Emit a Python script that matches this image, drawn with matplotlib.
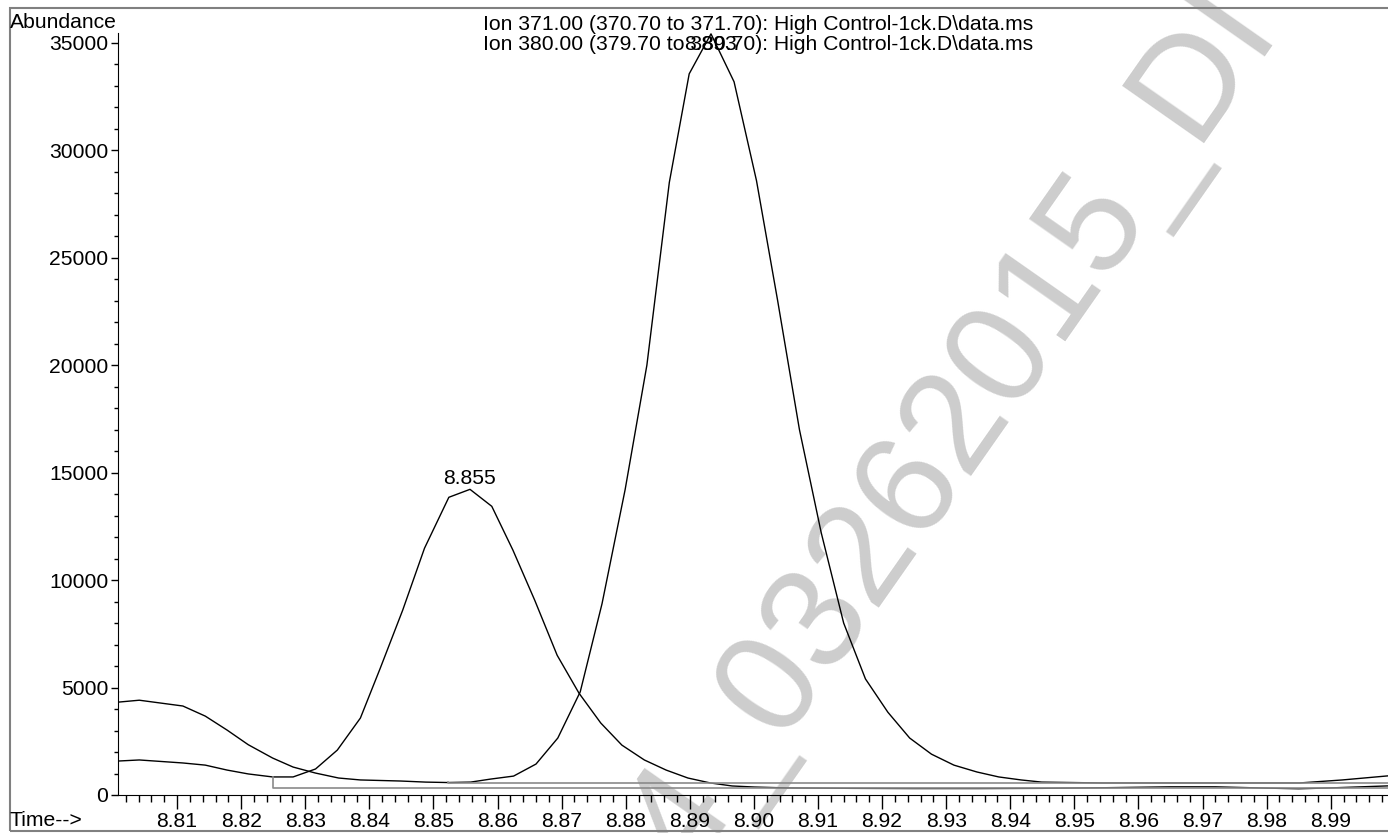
import matplotlib.pyplot as plt
import matplotlib.transforms as mtransforms
from matplotlib.patches import Rectangle
from matplotlib.ticker import MultipleLocator, FormatStrFormatter

plt.rcParams['font.family'] = ['Liberation Sans', 'DejaVu Sans']

# Ion 371.00 trace (peak at 8.855)
t_371 = [8.8008, 8.8041, 8.8109, 8.8144, 8.8178, 8.8211, 8.8249, 8.8281, 8.8316, 8.8350,
         8.8386, 8.8417, 8.8452, 8.8486, 8.8524, 8.8557, 8.8591, 8.8624, 8.8658, 8.8693,
         8.8727, 8.8761, 8.8794, 8.8829, 8.8863, 8.8897, 8.8932, 8.8966, 8.9001, 8.905,
         8.915, 8.925, 8.935, 8.945, 8.955, 8.965, 8.972, 8.980, 8.985, 8.990, 8.9995]
y_371 = [1580, 1630, 1490, 1390, 1160, 980, 840, 840, 1210, 2090,
         3580, 5900, 8600, 11480, 13850, 14220, 13430, 11390, 9060, 6500,
         4740, 3350, 2320, 1630, 1160, 790, 560, 420, 370, 330,
         310, 300, 300, 310, 340, 380, 380, 320, 290, 330, 430]

# Ion 380.00 trace (peak at 8.893)
t_380 = [8.8008, 8.8041, 8.8109, 8.8144, 8.8178, 8.8211, 8.8249, 8.8281, 8.8316, 8.8352,
         8.8386, 8.8449, 8.8488, 8.8522, 8.8558, 8.8589, 8.8625, 8.8660, 8.8694, 8.8729,
         8.8763, 8.8799, 8.8833, 8.8868, 8.8899, 8.8933, 8.8969, 8.9004, 8.9037, 8.9071,
         8.9105, 8.9140, 8.9174, 8.9209, 8.9243, 8.9277, 8.9312, 8.9348, 8.9382, 8.9417,
         8.9449, 8.9543, 8.9699, 8.9851, 8.9918, 8.9993]
y_380 = [4320, 4410, 4140, 3670, 3020, 2340, 1720, 1300, 1020, 790,
         700, 650, 600, 580, 600, 740, 880, 1440, 2650, 4800,
         8900, 14200, 20000, 28500, 33550, 35410, 33180, 28580, 23000, 17000,
         12200, 8000, 5400, 3850, 2650, 1900, 1390, 1070, 840, 700,
         600, 560, 560, 560, 700, 900]

ion_titles = ["Ion 371.00 (370.70 to 371.70): High Control-1ck.D\\data.ms",
              "Ion 380.00 (379.70 to 380.70): High Control-1ck.D\\data.ms"]
peak_labels = ["8.855", "8.893"]

# integration baselines (start time, signal at start, baseline level)
base_start = [8.8249, 8.8522]
base_top = [840, 600]
base_level = [325, 540]

W, H = 1388, 833
FS = 15.2
fig = plt.figure(figsize=(W / 100, H / 100), dpi=100)
ax = fig.add_axes([118 / W, 1 - 795 / H, 1 - 118 / W, (795 - 33) / H])
ax.patch.set_visible(False)

# watermark behind the chart
fig.text(0.4971, -0.048, "4_03262015_DI", rotation=55, rotation_mode='anchor',
         ha='left', va='baseline', fontsize=104, color='#cdcdcd', zorder=-1)

ax.plot(t_371, y_371, color='black', lw=1)
ax.plot(t_380, y_380, color='black', lw=1)
for bs, bt, bl in zip(base_start, base_top, base_level):
    ax.plot([bs, bs, 9.1], [bt, bl, bl], color='#8a8a8a', lw=1.2)

ax.set_xlim(8.80078, 8.99893)
ax.set_ylim(0, 35450)

ax.xaxis.set_major_locator(MultipleLocator(0.01))
ax.xaxis.set_minor_locator(MultipleLocator(0.002))
ax.xaxis.set_major_formatter(FormatStrFormatter('%.2f'))
ax.yaxis.set_major_locator(MultipleLocator(5000))
ax.yaxis.set_minor_locator(MultipleLocator(1000))
ax.yaxis.set_major_formatter(FormatStrFormatter('%d'))

ax.tick_params(axis='x', which='major', length=10, width=1, pad=2, labelsize=FS)
ax.tick_params(axis='x', which='minor', length=5, width=1)
ax.tick_params(axis='y', which='major', length=5, width=1, pad=2, labelsize=FS)
ax.tick_params(axis='y', which='minor', length=3, width=1)
for s in ['top', 'right']:
    ax.spines[s].set_visible(False)

# peak labels
i1 = y_371.index(max(y_371))
ax.annotate(peak_labels[0], xy=(t_371[i1], y_371[i1]), xytext=(0, 3.6),
            textcoords='offset points', ha='center', va='baseline', fontsize=FS)
i2 = y_380.index(max(y_380))
trans = mtransforms.blended_transform_factory(ax.transData, fig.transFigure)
ax.text(t_380[i2], 1 - 50 / H, peak_labels[1], transform=trans,
        ha='center', va='baseline', fontsize=FS)

fig.text(10 / W, 1 - 28 / H, "Abundance", fontsize=FS, ha='left', va='baseline')
fig.text(483 / W, 1 - 29.5 / H, ion_titles[0], fontsize=FS, ha='left', va='baseline')
fig.text(483 / W, 1 - 50 / H, ion_titles[1], fontsize=FS, ha='left', va='baseline')
fig.text(10 / W, 1 - 826 / H, "Time-->", fontsize=FS, ha='left', va='baseline')

# outer frame
fig.add_artist(Rectangle((10 / W, 1 - 831 / H), 1.0, (831 - 8) / H,
                         transform=fig.transFigure, fill=False,
                         edgecolor='#808080', lw=1.5))

plt.savefig("out.png", dpi=100)
